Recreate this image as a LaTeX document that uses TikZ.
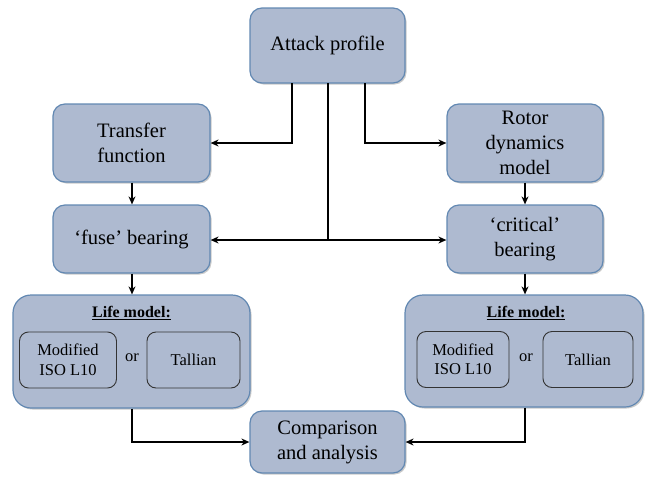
\documentclass[tikz,border=0pt]{standalone}
\usepackage{fontspec}
\setmainfont{Liberation Serif}
\newfontfamily\tnr{Liberation Serif}
\usetikzlibrary{arrows.meta,shadows}
\definecolor{boxfill}{RGB}{174,186,208}
\definecolor{boxline}{RGB}{98,136,178}
\begin{document}
\begin{tikzpicture}[x=1pt,y=-1pt,
  bluebox/.style={draw=boxline,fill=boxfill,line width=1.2pt,rounded corners=12pt,
    drop shadow={shadow xshift=1.5pt,shadow yshift=-1.5pt,opacity=0.35,fill=black!60},
    align=center,inner sep=0pt,font=\tnr\fontsize{20.5}{25}\selectfont},
  innerbox/.style={draw=black!80,line width=0.9pt,rounded corners=9pt,align=center,
    inner sep=0pt,font=\tnr\fontsize{16.5}{19.5}\selectfont},
  conn/.style={line width=1.6pt},
  arr/.style={conn,-{Stealth[length=8pt,width=7pt]}}]
\useasboundingbox (0,0) rectangle (646,477);
\node[bluebox,minimum width=155pt,minimum height=75pt] (attack) at (327.5,45.5) {Attack profile};
\node[bluebox,minimum width=157pt,minimum height=78pt] (transfer) at (131.5,143) {Transfer\\function};
\node[bluebox,minimum width=156pt,minimum height=78pt] (rotor) at (525,143) {Rotor\\dynamics\\model};
\node[bluebox,minimum width=157pt,minimum height=68pt] (fuse) at (131.5,239) {‘fuse’ bearing};
\node[bluebox,minimum width=156pt,minimum height=68pt] (critical) at (525,239) {‘critical’\\bearing};
\node[bluebox,minimum width=237pt,minimum height=113pt,rounded corners=18pt] (lifeL) at (131.5,351.5) {};
\node[bluebox,minimum width=238pt,minimum height=112pt,rounded corners=18pt] (lifeR) at (524,351) {};
\node[bluebox,minimum width=155pt,minimum height=62pt] (comp) at (327.5,442) {Comparison\\and analysis};
% left life model
\node[font=\tnr\fontsize{16}{18}\selectfont\bfseries] (lmL) at (131.5,313) {\underline{Life model:}};
\node[innerbox,minimum width=97pt,minimum height=56pt] (modL) at (68,360) {Modified\\ISO L10};
\node[font=\tnr\fontsize{16.5}{18}\selectfont] (orL) at (132,358) {or};
\node[innerbox,minimum width=93pt,minimum height=56pt] (talL) at (193.5,360) {Tallian};
% right life model
\node[font=\tnr\fontsize{16}{18}\selectfont\bfseries] (lmR) at (526,313) {\underline{Life model:}};
\node[innerbox,minimum width=92pt,minimum height=56pt] (modR) at (463,359.5) {Modified\\ISO L10};
\node[font=\tnr\fontsize{16.5}{18}\selectfont] (orR) at (526,357.5) {or};
\node[innerbox,minimum width=90pt,minimum height=56pt] (talR) at (588,359.5) {Tallian};
% connectors
\coordinate (a1) at (292,83);
\coordinate (a2) at (328,83);
\coordinate (a3) at (365,83);
\coordinate (xl) at (132,0);
\draw[arr] (a1) |- (transfer.east);
\draw[arr] (a3) |- (rotor.west);
\coordinate (mid) at (328,240);
\draw[conn] (a2) -- (mid);
\draw[arr] (mid) -- (fuse.east |- mid);
\draw[arr] (mid) -- (critical.west |- mid);
\draw[arr] (transfer.south -| xl) -- (fuse.north -| xl);
\draw[arr] (rotor.south) -- (critical.north);
\draw[arr] (fuse.south -| xl) -- (lifeL.north -| xl);
\draw[arr] (critical.south) -- (lifeR.north -| critical.south);
\draw[arr] (lifeL.south -| xl) |- (comp.west);
\draw[arr] (lifeR.south -| critical.south) |- (comp.east);
\end{tikzpicture}
\end{document}
